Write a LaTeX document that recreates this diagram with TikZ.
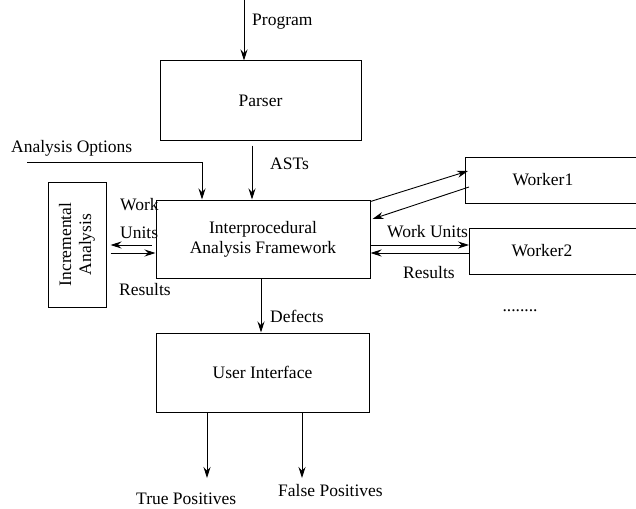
\documentclass[tikz,border=0pt]{standalone}
\usepackage{fontspec}
\setmainfont{Liberation Serif}
\usetikzlibrary{arrows.meta}
\usetikzlibrary{calc}
\usetikzlibrary{positioning}
\tikzstyle{arrow} = [line width=0.9pt,-{Stealth[length=11pt,width=7pt]}]
\tikzstyle{block} = [draw,line width=1pt,rectangle,inner sep=0pt]
\tikzstyle{lbl} = [inner sep=0pt,anchor=west]

\begin{document}
\begin{tikzpicture}[x=1pt,y=-1pt,font=\fontsize{17.5}{20}\selectfont]

    \useasboundingbox (0,0) rectangle (636,508); % same frame as the figure

    % the boxes
    \node[block,minimum width=201pt,minimum height=79pt] (parser) at (260.5,100.5) {Parser};
    \node[block,minimum width=214pt,minimum height=78pt,align=center] (iaf) at (263,239)
        {Interprocedural\\Analysis Framework};
    \node[block,rotate=90,minimum width=125pt,minimum height=58pt,align=center] (incr) at (77,244.5)
        {Incremental\\Analysis};
    \node[block,anchor=west,minimum height=46pt,text width=81pt,inner xsep=47pt,align=left] (worker1)
        at (465,180) {Worker1};
    \node[block,anchor=west,minimum height=46pt,text width=87pt,inner xsep=42pt,align=left] (worker2)
        at (469,251) {Worker2};
    \node[block,minimum width=213pt,minimum height=79pt] (ui) at (262.5,372.5) {User Interface};

    % free ends
    \coordinate (progIn) at (244,0);
    \coordinate (optsIn) at (27,162);
    \coordinate (trueOut) at (207,478);
    \coordinate (falseOut) at (302,478);

    % input side
    \draw[arrow] (progIn) -- (progIn |- parser.north);
    \draw[arrow,shorten <=5pt] ([xshift=-8.5pt]parser.south) -- ([xshift=-11pt]iaf.north);
    \draw[arrow] (optsIn) -| ([xshift=-61pt]iaf.north);

    % incremental analysis
    \coordinate (wuL) at ([yshift=-6pt]iaf.west);
    \coordinate (resL) at ([yshift=-14pt]iaf.west);
    \draw[arrow,shorten <=4pt,shorten >=4pt] (wuL) -- (wuL -| incr.south);
    \draw[arrow,shorten <=4pt] (resL -| incr.south) -- (resL);

    % workers
    \draw[arrow] ([yshift=-2pt]iaf.north east) -- ([yshift=9pt,xshift=3pt]worker1.west);
    \draw[arrow] ([yshift=-7pt,xshift=4pt]worker1.west) -- ([yshift=20pt,xshift=2pt]iaf.east);
    \coordinate (wuR) at ([yshift=-6pt]iaf.east);
    \coordinate (resR) at ([yshift=-14pt]iaf.east);
    \draw[arrow] (wuR) -- (wuR -| worker2.west);
    \draw[arrow] (resR -| worker2.west) -- (resR);

    % output side
    \draw[arrow] ([xshift=-2pt]iaf.south) -- ([xshift=-1.5pt]ui.north);
    \draw[arrow] (trueOut |- ui.south) -- (trueOut);
    \draw[arrow] (falseOut |- ui.south) -- (falseOut);

    % labels
    \node[lbl] (lblProgram) at (252,22) {Program};
    \node[lbl] (lblAsts) at (270,164) {ASTs};
    \node[lbl] (lblOpts) at (11,148) {Analysis Options};
    \node[lbl] (lblWork) at (120,205) {Work};
    \node[lbl] (lblUnits) at (120,233) {Units};
    \node[lbl] (lblResL) at (119,290) {Results};
    \node[lbl] (lblWorkUnits) at (387,232) {Work Units};
    \node[lbl] (lblResR) at (403,273) {Results};
    \node (dots) at (520,311) {........};
    \node[lbl] (lblDefects) at (270,316) {Defects};
    \node[lbl] (lblTrue) at (136,499) {True Positives};
    \node[lbl] (lblFalse) at (278,491) {False Positives};

\end{tikzpicture}
\end{document}
